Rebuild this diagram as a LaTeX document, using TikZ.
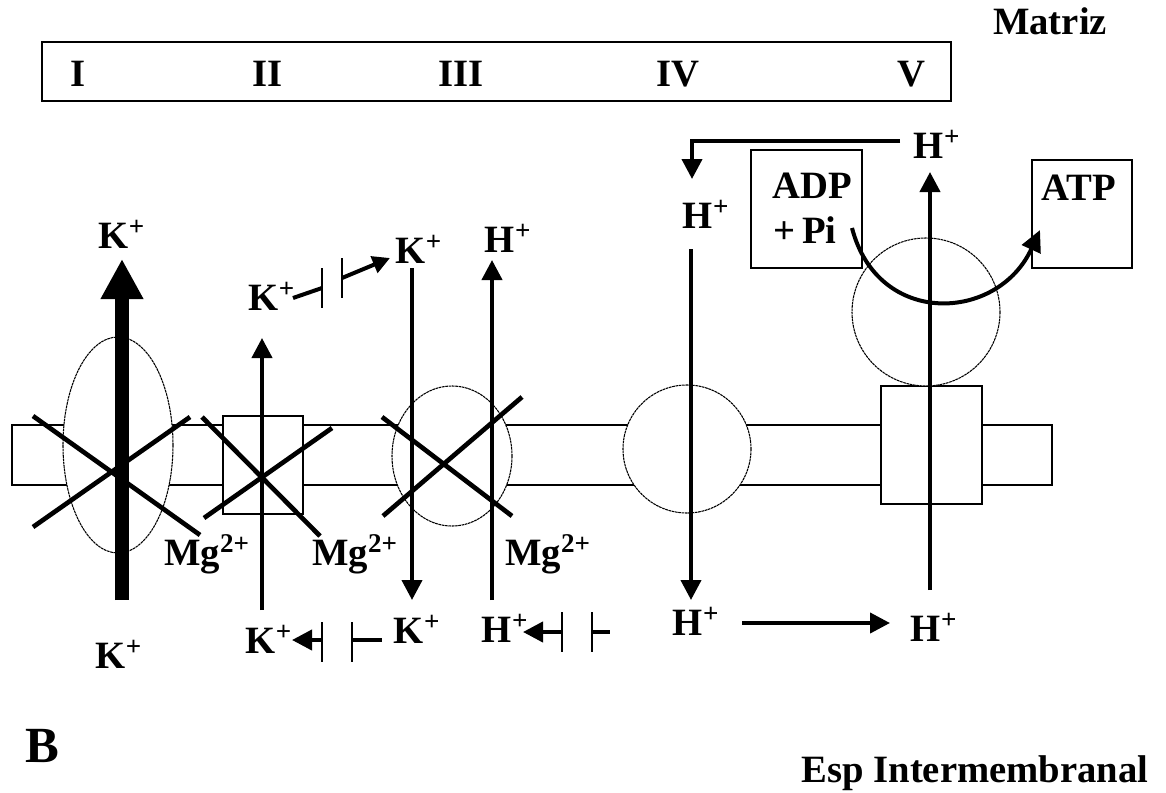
\documentclass[tikz,border=0pt]{standalone}
\usepackage{fontspec}
\setmainfont{Liberation Serif}
\usetikzlibrary{arrows.meta}

\begin{document}
\begin{tikzpicture}[x=0.75pt, y=-0.75pt,
		lbl/.style={font=\fontsize{29}{32}\selectfont\bfseries, inner sep=0pt, anchor=base},
		memb/.style={draw, fill=white, line width=0.8pt},
		prot/.style={draw, fill=white, line width=0.8pt, dash pattern=on 2pt off 0.5pt},
		flux/.style={line width=3pt, -{Triangle[length=15pt, width=15pt]}},
		gate/.style={line width=3pt},
		gatebar/.style={line width=1pt},
		block/.style={line width=3.5pt}]
	\useasboundingbox (0,0) rectangle (1166,792);

	% Matrix side and complex numbers
	\node[lbl] (matriz) at (1050,35) {Matriz};
	\draw[line width=1pt] (42,42) rectangle (951,101);
	\node[lbl] (nI) at (78,86) {I};
	\node[lbl] (nII) at (268,86) {II};
	\node[lbl] (nIII) at (461,86) {III};
	\node[lbl] (nIV) at (678,86) {IV};
	\node[lbl] (nV) at (911,86) {V};

	% Membrane
	\draw[memb] (12,425) rectangle (1052,485);

	% Complexes
	\draw[prot] (118,445) ellipse [x radius=55, y radius=108];
	\draw[memb] (223,416) rectangle (303,514);
	\draw[prot] (452,456) ellipse [x radius=60, y radius=70];
	\draw[prot] (687,449) circle [radius=64];
	\draw[memb] (881,386) rectangle (982,504);
	\draw[prot] (926,312) circle [radius=74];

	% Blocked complexes
	\draw[block] (33,416) -- (200,535);
	\draw[block] (33,527) -- (190,417);
	\draw[block] (202,417) -- (320,536);
	\draw[block] (204,518) -- (332,428);
	\draw[block] (382,417) -- (512,516);
	\draw[block] (383,516) -- (522,397);

	% Complex I: K+
	\coordinate (kIin) at (122,600);
	\coordinate (kIout) at (122,259);
	\draw[line width=10pt, -{Triangle[length=30pt, width=30pt]}] (kIin) -- (kIout);
	\node[lbl] (kItop) at (122,248) {K\textsuperscript{+}};
	\node[lbl] (kIbot) at (119,668) {K\textsuperscript{+}};
	\node[lbl] (mgI) at (207,565) {Mg\textsuperscript{2+}};

	% Complex II: K+
	\coordinate (kIIin) at (262,610);
	\coordinate (kIIout) at (262,338);
	\draw[flux] (kIIin) -- (kIIout);
	\node[lbl] (kIIbot) at (269,653) {K\textsuperscript{+}};
	\node[lbl] (mgII) at (355,565) {Mg\textsuperscript{2+}};

	% Complex III: K+ and H+
	\coordinate (kIIIin) at (412,268);
	\coordinate (kIIIout) at (412,600);
	\draw[flux] (kIIIin) -- (kIIIout);
	\coordinate (hIIIin) at (492,600);
	\coordinate (hIIIout) at (492,260);
	\draw[flux] (hIIIin) -- (hIIIout);
	\node[lbl] (kIIItop) at (419,263) {K\textsuperscript{+}};
	\node[lbl] (hIIItop) at (508,252) {H\textsuperscript{+}};
	\node[lbl] (kIIIbot) at (417,643) {K\textsuperscript{+}};
	\node[lbl] (hIIIbot) at (505,642) {H\textsuperscript{+}};
	\node[lbl] (mgIII) at (548,565) {Mg\textsuperscript{2+}};

	% Gated K+ (matrix side)
	\node[lbl] (kGtop) at (272,310) {K\textsuperscript{+}};
	\draw[gate] (293,298) -- (322,288);
	\draw[gatebar] (322,268) -- (322,308);
	\draw[gatebar] (342,258) -- (342,298);
	\draw[gate, -{Triangle[length=13pt, width=13pt]}] (342,278) -- (390,258);

	% Gated K+ and H+ (intermembrane side)
	\draw[gate, -{Triangle[length=15pt, width=15pt]}] (322,640) -- (292,640);
	\draw[gatebar] (322,622) -- (322,662);
	\draw[gatebar] (352,622) -- (352,662);
	\draw[gate] (352,640) -- (382,640);
	\draw[gate, -{Triangle[length=15pt, width=15pt]}] (562,632) -- (523,632);
	\draw[gatebar] (562,612) -- (562,652);
	\draw[gatebar] (592,612) -- (592,652);
	\draw[gate] (592,632) -- (610,632);

	% Complex IV and V: H+ cycle
	\node[lbl] (hVtop) at (937,158) {H\textsuperscript{+}};
	\node[lbl] (hIVtop) at (706,228) {H\textsuperscript{+}};
	\node[lbl] (hIVbot) at (696,635) {H\textsuperscript{+}};
	\node[lbl] (hVbot) at (934,641) {H\textsuperscript{+}};
	\coordinate (ret) at (900,141);
	\coordinate (retin) at (692,179);
	\draw[flux] (ret) -| (retin);
	\coordinate (hIVin) at (691,249);
	\coordinate (hIVout) at (691,600);
	\draw[flux] (hIVin) -- (hIVout);
	\coordinate (crossa) at (742,623);
	\coordinate (crossb) at (890,623);
	\draw[flux] (crossa) -- (crossb);
	\coordinate (hVin) at (930,590);
	\coordinate (hVout) at (930,172);
	\draw[flux] (hVin) -- (hVout);

	% ATP synthesis
	\draw[line width=1pt] (751,150) rectangle (862,268);
	\node[lbl] (adp) at (812,198) {ADP};
	\node[lbl] (pi) at (805,243) {+\,Pi};
	\draw[line width=1pt] (1032,160) rectangle (1132,268);
	\node[lbl] (atp) at (1079,200) {ATP};
	\coordinate (synin) at (852,228);
	\coordinate (synout) at (1040,230);
	\draw[line width=3pt, -{Triangle[length=16pt, width=15pt]}] (synin) .. controls (878,328) and (998,322) .. (synout);

	% Sides
	\node[font=\fontsize{38}{42}\selectfont\bfseries, inner sep=0pt, anchor=base] (panel) at (42,762) {B};
	\node[lbl] (esp) at (975,782) {Esp Intermembranal};
\end{tikzpicture}
\end{document}
